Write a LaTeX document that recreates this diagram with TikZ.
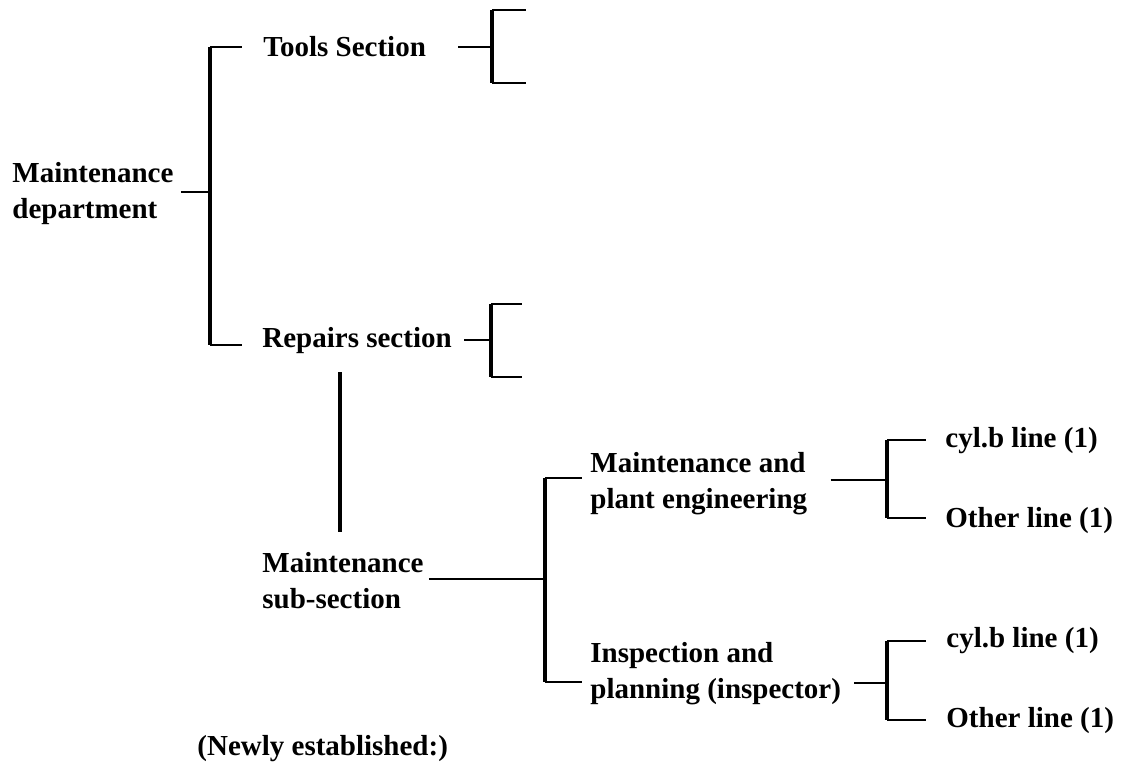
\documentclass[tikz,border=0pt]{standalone}
\usepackage{fontspec}
\setmainfont{Liberation Serif}
\newcommand\twolines[2]{\begin{tabular}[t]{@{}l@{}}#1\\#2\end{tabular}}
\begin{document}
\begin{tikzpicture}[x=0.5pt,y=-0.5pt,
  lbl/.style={anchor=base west, inner sep=0pt,
              font=\fontsize{14.5}{18}\selectfont\bfseries},
  bar/.style={line width=1.8pt},
  tick/.style={line width=1pt}]
\useasboundingbox (0,0) rectangle (1122,777);

% labels
\node[lbl] (dept)    at (12,182)  {\twolines{Maintenance}{department}};
\node[lbl] (tools)   at (263,56)  {Tools Section};
\node[lbl] (repairs) at (262,347) {Repairs section};
\node[lbl] (sub)     at (262,572) {\twolines{Maintenance}{sub-section}};
\node[lbl] (mpe)     at (590,472) {\twolines{Maintenance and}{plant engineering}};
\node[lbl] (insp)    at (590,662) {\twolines{Inspection and}{planning (inspector)}};
\node[lbl] (cylA)    at (945,447) {cyl.b line (1)};
\node[lbl] (othA)    at (945,527) {Other line (1)};
\node[lbl] (cylB)    at (946,647) {cyl.b line (1)};
\node[lbl] (othB)    at (946,727) {Other line (1)};
\node[lbl] (newly)   at (197,755) {(Newly established:)};

% bracket points
\coordinate (aT) at (210,47);  \coordinate (aM) at (210,192); \coordinate (aB) at (210,345);
\coordinate (bT) at (492,10);  \coordinate (bM) at (492,47);  \coordinate (bB) at (492,83);
\coordinate (bTe) at (526,10); \coordinate (bBe) at (526,83);
\coordinate (cT) at (491,304); \coordinate (cM) at (491,340); \coordinate (cB) at (491,377);
\coordinate (cTe) at (522,304); \coordinate (cBe) at (522,377);
\coordinate (lkT) at (340,372); \coordinate (lkB) at (340,532);
\coordinate (dT) at (545,478); \coordinate (dM) at (545,579); \coordinate (dB) at (545,682);
\coordinate (eT) at (887,440); \coordinate (eM) at (887,480); \coordinate (eB) at (887,518);
\coordinate (fT) at (887,641); \coordinate (fM) at (887,683); \coordinate (fB) at (887,720);

% department -> sections
\draw[bar] (aT) -- (aB);
\draw[tick, shorten <=3.5pt] (dept.east |- aM) -- (aM);
\draw[tick, shorten >=10.5pt] (aT) -- (tools.west |- aT);
\draw[tick, shorten >=10pt] (aB) -- (repairs.west |- aB);

% tools section bracket
\draw[bar] (bT) -- (bB);
\draw[tick, shorten <=16pt] (tools.east |- bM) -- (bM);
\draw[tick] (bT) -- (bTe);
\draw[tick] (bB) -- (bBe);

% repairs section bracket
\draw[bar] (cT) -- (cB);
\draw[tick, shorten <=6pt] (repairs.east |- cM) -- (cM);
\draw[tick] (cT) -- (cTe);
\draw[tick] (cB) -- (cBe);

% repairs -> maintenance sub-section
\draw[bar] (lkT) -- (lkB);

% sub-section bracket
\draw[bar] (dT) -- (dB);
\draw[tick, shorten <=2.5pt] (sub.east |- dM) -- (dM);
\draw[tick, shorten >=4pt] (dT) -- (mpe.west |- dT);
\draw[tick, shorten >=4pt] (dB) -- (insp.west |- dB);

% maintenance and plant engineering bracket
\draw[bar] (eT) -- (eB);
\draw[tick, shorten <=11.5pt] (mpe.east |- eM) -- (eM);
\draw[tick, shorten >=9.5pt] (eT) -- (cylA.west |- eT);
\draw[tick, shorten >=9.5pt] (eB) -- (othA.west |- eB);

% inspection and planning bracket
\draw[bar] (fT) -- (fB);
\draw[tick, shorten <=6.5pt] (insp.east |- fM) -- (fM);
\draw[tick, shorten >=10pt] (fT) -- (cylB.west |- fT);
\draw[tick, shorten >=10pt] (fB) -- (othB.west |- fB);
\end{tikzpicture}
\end{document}
